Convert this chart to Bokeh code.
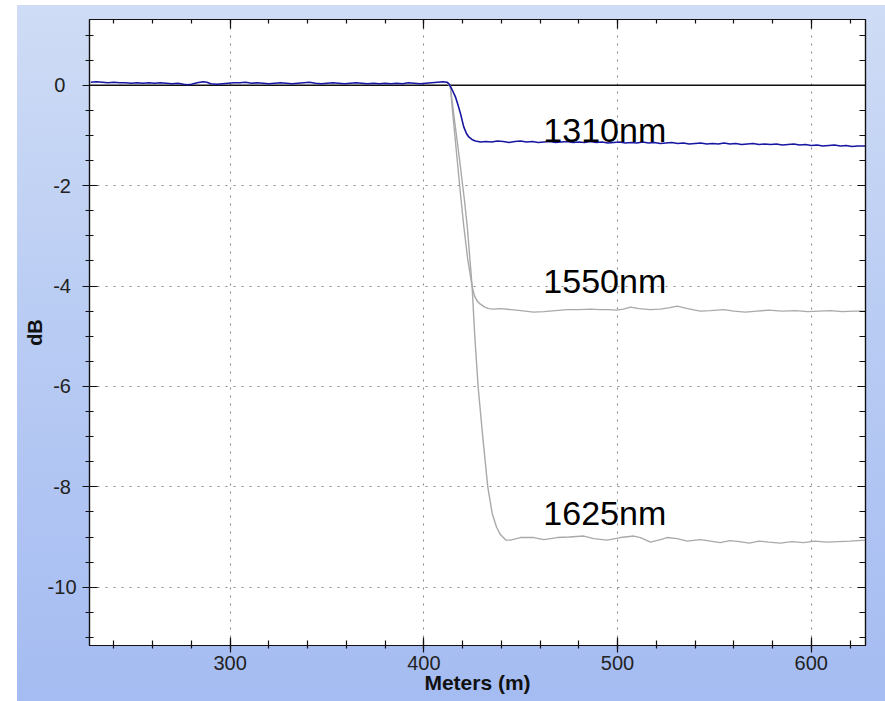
from bokeh.plotting import figure
from bokeh.models import (ColumnDataSource, Range1d, LinearAxis, SingleIntervalTicker,
                          Span, CustomJSTickFormatter)
from bokeh.core.properties import value
from bokeh.embed import file_html
from bokeh.resources import INLINE

# OTDR trace: relative loss (dB) versus distance (m) at three wavelengths
dist_1310 = [228, 231, 234, 237, 240, 243, 246, 249, 252, 255, 258, 261, 264, 267, 270, 273, 276, 278,
             280, 283, 286, 288, 290, 293, 296, 299, 302, 305, 308, 311, 314, 317, 320, 323, 326, 329,
             332, 335, 338, 341, 344, 347, 350, 353, 356, 359, 362, 365, 368, 371, 374, 377, 380, 383,
             386, 389, 392, 395, 398, 401, 404, 407, 410, 412, 413,
             414.5, 416.3, 417.6, 418.9, 420.6, 422, 423.2, 424.8, 426.6, 429.2,
             432, 435, 438, 441, 444, 447, 450, 453, 456, 459, 462, 465, 468, 471, 474, 477, 480, 483,
             486, 489, 492, 495, 498, 501, 504, 507, 510, 513, 516, 519, 522, 525, 528, 531, 534, 537,
             540, 543, 546, 549, 552, 555, 558, 561, 564, 567, 570, 573, 576, 579, 582, 585, 588, 591,
             594, 597, 600, 603, 606, 609, 612, 615, 618, 621, 624, 628]
loss_1310 = [0.06, 0.07, 0.06, 0.05, 0.06, 0.05, 0.05, 0.04, 0.05, 0.04, 0.05, 0.04, 0.05, 0.04, 0.03, 0.04,
             0.02, 0.01, 0.02, 0.05, 0.07, 0.06, 0.03, 0.02, 0.03, 0.04, 0.05, 0.05, 0.06, 0.04, 0.05, 0.04,
             0.03, 0.04, 0.05, 0.04, 0.03, 0.04, 0.05, 0.06, 0.04, 0.03, 0.04, 0.05, 0.04, 0.03, 0.04, 0.05,
             0.04, 0.03, 0.04, 0.03, 0.04, 0.03, 0.04, 0.03, 0.05, 0.04, 0.03, 0.04, 0.05, 0.06, 0.07, 0.06,
             0.03,
             -0.08, -0.23, -0.39, -0.56, -0.83, -0.96, -1.03, -1.08, -1.11, -1.13,
             -1.12, -1.13, -1.11, -1.12, -1.14, -1.12, -1.11, -1.13, -1.12, -1.14, -1.13, -1.12, -1.14,
             -1.13, -1.12, -1.14, -1.13, -1.14, -1.12, -1.14, -1.13, -1.15, -1.14, -1.13, -1.15, -1.14,
             -1.15, -1.13, -1.15, -1.14, -1.16, -1.15, -1.14, -1.16, -1.15, -1.17, -1.16, -1.15, -1.17,
             -1.16, -1.17, -1.15, -1.17, -1.16, -1.18, -1.17, -1.16, -1.18, -1.17, -1.18, -1.17, -1.19,
             -1.18, -1.17, -1.19, -1.18, -1.20, -1.19, -1.21, -1.20, -1.19, -1.21, -1.20, -1.22, -1.21,
             -1.21]

dist_1550 = [412, 413.6, 415, 417, 419, 420.6, 422.6, 424.9, 426.2, 427.6, 429.2, 431.5, 433.5, 436,
             439.5, 445, 450, 456.7, 462, 468, 474, 480, 486, 490.8, 495, 499.8, 503, 506.7, 511, 517,
             522, 527, 530.8, 535, 540, 542.8, 548, 555, 560, 566, 572, 578, 585, 592, 598, 604, 610,
             616, 622, 628]
loss_1550 = [0.03, 0.0, -0.6, -1.4, -2.2, -2.8, -3.45, -4.0, -4.2, -4.3, -4.36, -4.42, -4.45, -4.46,
             -4.45, -4.47, -4.49, -4.52, -4.51, -4.49, -4.47, -4.47, -4.46, -4.47, -4.47, -4.48, -4.46,
             -4.42, -4.45, -4.47, -4.46, -4.43, -4.40, -4.44, -4.48, -4.50, -4.49, -4.47, -4.50, -4.52,
             -4.50, -4.48, -4.50, -4.49, -4.51, -4.50, -4.49, -4.51, -4.50, -4.50]

dist_1625 = [412, 413.6, 416, 418.5, 421, 422.5, 424.9, 426.3, 427.5, 428.0, 430.4, 433.0, 435.3, 437.5,
             439.5, 442.3, 444.7, 449.9, 456.7, 461.9, 468.8, 475, 482.6, 487.7, 494.6, 501.5, 508.4,
             511.8, 517, 522.2, 525.6, 530.8, 535.9, 542.8, 548, 553, 558, 563, 568, 573, 578, 584, 590,
             596, 602, 608, 614, 620, 628]
loss_1625 = [0.03, 0.0, -0.75, -1.5, -2.3, -2.85, -4.0, -5.0, -5.7, -6.0, -7.0, -8.0, -8.53, -8.8,
             -8.95, -9.06, -9.06, -9.01, -9.01, -9.05, -9.01, -9.0, -8.98, -9.03, -9.06, -9.01, -8.98,
             -9.01, -9.10, -9.05, -9.01, -9.03, -9.08, -9.05, -9.08, -9.11, -9.07, -9.09, -9.12, -9.08,
             -9.10, -9.12, -9.09, -9.11, -9.08, -9.10, -9.09, -9.08, -9.06]

# wavelength captions placed next to each trace
label_text = ["1310nm", "1550nm", "1625nm"]
label_dist = [461.7, 461.7, 461.7]
label_loss = [-1.13, -4.14, -8.75]

FONT = "Liberation Sans"

p = figure(width=885, height=701,
           x_range=Range1d(227.4, 628.0), y_range=Range1d(-11.16, 1.31),
           output_backend="svg", toolbar_location=None,
           min_border_left=89, min_border_right=20, min_border_top=19, min_border_bottom=56,
           background_fill_color="white")
p.border_fill_alpha = 0
p.styles = {"background": "linear-gradient(to bottom, #cfdcf5 0%, #b9ccf3 45%, #a5bcf2 100%) "
                          "17px 5px / 868px 696px no-repeat #ffffff"}
p.outline_line_color = "#111111"
p.outline_line_width = 1.2

x_ticker = SingleIntervalTicker(interval=100, num_minor_ticks=5)
y_ticker = SingleIntervalTicker(interval=2, num_minor_ticks=4)

xa = p.xaxis[0]
ya = p.yaxis[0]
xa.ticker = x_ticker
ya.ticker = y_ticker
xa.axis_label = "Meters (m)"
ya.axis_label = "dB"

# dB ticks with a plain hyphen; a trailing fixed-width space keeps the
# shorter labels visually centred under the widest one
ya.formatter = CustomJSTickFormatter(code="""
    const a = Math.abs(tick);
    if (a === 0) return '0\\u2007';
    const s = (tick < 0 ? '-' : '') + a;
    return a < 10 ? s + '\\u2008' : s;
""")

for ax in (xa, ya):
    ax.axis_line_color = "#111111"
    ax.axis_line_width = 1.2
    ax.major_tick_line_color = "#111111"
    ax.minor_tick_line_color = "#111111"
    ax.major_tick_line_width = 1.2
    ax.minor_tick_line_width = 1.2
    ax.major_tick_in = 8
    ax.major_tick_out = 7
    ax.major_label_text_font = FONT
    ax.major_label_text_font_size = "20px"
    ax.major_label_text_color = "#222222"
    ax.axis_label_text_font = FONT
    ax.axis_label_text_font_size = "20px"
    ax.axis_label_text_font_style = "bold"
    ax.axis_label_text_color = "#111111"

xa.minor_tick_in = 5
xa.minor_tick_out = 3
xa.major_label_standoff = 3
xa.axis_label_standoff = -2
xa.axis_label_text_font_size = "21px"
ya.minor_tick_in = 4
ya.minor_tick_out = 4
ya.major_label_standoff = 6
ya.axis_label_standoff = -1

# tick-only axes closing the frame on top and right
blank = CustomJSTickFormatter(code="return ''")
top = LinearAxis(ticker=x_ticker, formatter=blank, major_tick_in=9, major_tick_out=0,
                 minor_tick_in=4, minor_tick_out=0, major_label_standoff=0,
                 major_label_text_font_size="0px", axis_line_color="#111111",
                 major_tick_line_color="#111111", minor_tick_line_color="#111111",
                 axis_line_width=1.2, major_tick_line_width=1.2, minor_tick_line_width=1.2)
right = LinearAxis(ticker=y_ticker, formatter=blank, major_tick_in=8, major_tick_out=0,
                   minor_tick_in=6, minor_tick_out=0, major_label_standoff=0,
                   major_label_text_font_size="0px", axis_line_color="#111111",
                   major_tick_line_color="#111111", minor_tick_line_color="#111111",
                   axis_line_width=1.2, major_tick_line_width=1.2, minor_tick_line_width=1.2)
p.add_layout(top, "above")
p.add_layout(right, "right")

for g in (p.xgrid[0], p.ygrid[0]):
    g.grid_line_color = "#8a8a8a"
    g.grid_line_dash = "2 6"
    g.grid_line_width = 1.1

zero = Span(location=0, dimension="width", line_color="#111111", line_width=1.3, level="underlay")
p.add_layout(zero)

src_1625 = ColumnDataSource(dict(x=dist_1625, y=loss_1625))
src_1550 = ColumnDataSource(dict(x=dist_1550, y=loss_1550))
src_1310 = ColumnDataSource(dict(x=dist_1310, y=loss_1310))
p.line("x", "y", source=src_1625, line_color="#a9a9a9", line_width=1.4)
p.line("x", "y", source=src_1550, line_color="#a9a9a9", line_width=1.4)
p.line("x", "y", source=src_1310, line_color="#1616a2", line_width=1.6)

labels = ColumnDataSource(dict(x=label_dist, y=label_loss, text=label_text))
p.text("x", "y", text="text", source=labels, text_font=value(FONT), text_font_size="34px",
       text_color="#000000", text_align="left", text_baseline="alphabetic", y_offset=-12)

open("out.html", "w").write(file_html(p, INLINE))
